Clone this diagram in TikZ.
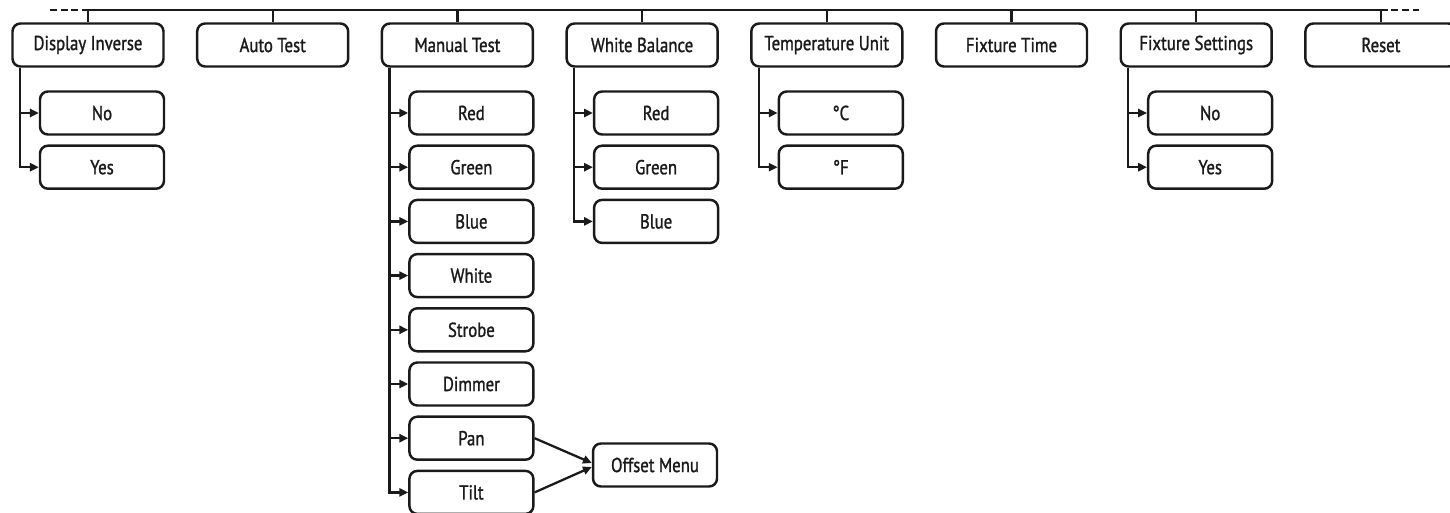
\documentclass[tikz,border=0pt]{standalone}
\usepackage{fontspec}
\setmainfont{PT Sans}[FakeStretch=0.83, FakeBold=1.2]
\usetikzlibrary{arrows.meta,calc}
\definecolor{menuink}{HTML}{1A1A1A}

\begin{document}
\begin{tikzpicture}[
  x=0.02cm,
  y=-0.02cm,
  every node/.style={font=\fontsize{11.5}{13}\selectfont, menuink},
  menubox/.style={draw=menuink, line width=1.4pt, rounded corners=4.5pt,
    minimum width=3.02cm, minimum height=0.86cm, inner sep=0pt},
  subbox/.style={menubox, minimum width=2.48cm},
  bus/.style={menuink, line width=1.3pt},
  conn/.style={menuink, line width=1.3pt, -{Triangle[length=5pt,width=4.6pt]}},
  more/.style={menuink, line width=1.3pt, dash pattern=on 4pt off 2pt}
]
  % ---- page frame, same proportions as the scan ----
  \useasboundingbox (0,0) rectangle (1450,513);

  % ---- top level of the menu ----
  \foreach \name/\label [count=\i from 0] in {disp/Display Inverse,
      auto/Auto Test, manual/Manual Test, white/White Balance,
      temp/Temperature Unit, fixtime/Fixture Time,
      fixset/Fixture Settings, reset/Reset}
    \node[menubox] (\name) at ({88+184.7*\i},45) {\label};

  % ---- bus along the top ----
  \coordinate (busL) at (disp.north |- 0,10);
  \coordinate (busR) at (reset.north |- 0,10);
  \coordinate (moreL) at ($(busL)+(-38,0)$);
  \coordinate (moreR) at ($(busR)+(38,0)$);
  \draw[bus] (busL) -- (busR);
  \draw[more] (moreL) -- (busL);
  \draw[more] (busR) -- (moreR);
  \foreach \name in {disp, auto, manual, white, temp, fixtime, fixset, reset}
    \draw[bus] (\name.north) -- (\name.north |- busL);

  % ---- sub-menus: one column under each parent ----
  \foreach \parent/\list in {disp/{No,Yes}, manual/{Red,Green,Blue,White,Strobe,Dimmer,Pan,Tilt},
      white/{Red,Green,Blue}, temp/{°C,°F}, fixset/{No,Yes}} {
    \coordinate (\parent-trunk) at ($(\parent.south)+(-68,0)$);
    \foreach \label [count=\k] in \list {
      \node[subbox] (\parent-\k) at ($(\parent.center |- 0,{113+54.2*(\k-1)})+(14,0)$) {\label};
      \draw[conn] (\parent-trunk) |- (\parent-\k.west);
    }
  }

  % ---- pan / tilt offset ----
  \node[subbox] (offset) at (655,465) {Offset Menu};
  \draw[conn] (manual-7.east) -- ($(offset.west)+(0,-2)$);
  \draw[conn] (manual-8.east) -- ($(offset.west)+(0,2)$);
\end{tikzpicture}
\end{document}
